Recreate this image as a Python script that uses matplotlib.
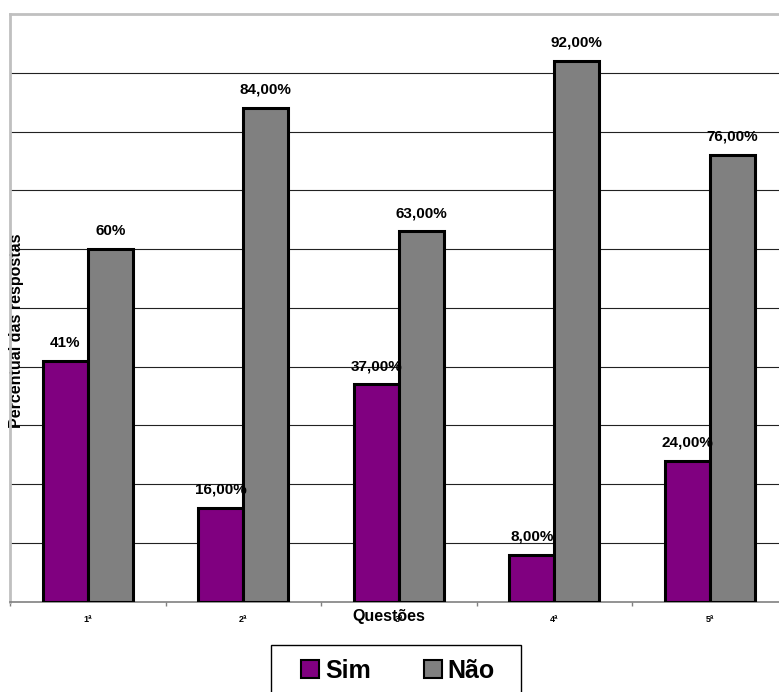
import matplotlib
matplotlib.use("Agg")
import matplotlib.pyplot as plt
from matplotlib.patches import Rectangle, Patch
import numpy as np

plt.rcParams['font.family'] = ['Liberation Sans', 'DejaVu Sans']

questoes = ["1ª", "2ª", "3ª", "4ª", "5ª"]
sim = [41, 16, 37, 8, 24]
nao = [60, 84, 63, 92, 76]
sim_labels = ["41%", "16,00%", "37,00%", "8,00%", "24,00%"]
nao_labels = ["60%", "84,00%", "63,00%", "92,00%", "76,00%"]

W, H = 779, 692
fig = plt.figure(figsize=(W / 100, H / 100), dpi=100)
fig.patch.set_facecolor("white")

x0, x1 = 10, 787.5
y_top, y_base = 14, 601.5
ax = fig.add_axes([x0 / W, 1 - y_base / H, (x1 - x0) / W, (y_base - y_top) / H])

x = np.arange(len(questoes))
bw = 0.29
bars_sim = ax.bar(x - bw / 2, sim, bw, color="#800080", edgecolor="black",
                  linewidth=2.2, zorder=3, label="Sim")
bars_nao = ax.bar(x + bw / 2, nao, bw, color="#808080", edgecolor="black",
                  linewidth=2.2, zorder=3, label="Não")

for rect, txt in list(zip(bars_sim, sim_labels)) + list(zip(bars_nao, nao_labels)):
    ax.annotate(txt, (rect.get_x() + rect.get_width() / 2, rect.get_height()),
                xytext=(0, 8), textcoords="offset points", ha="center", va="bottom",
                fontsize=11, fontweight="bold", color="black", zorder=5)

ax.set_xlim(-0.5, len(questoes) - 0.5)
ax.set_ylim(0, 100)

# horizontal gridlines every 10%
ax.set_yticks(np.arange(10, 100, 10))
ax.yaxis.grid(True, color="#222222", linewidth=0.8, zorder=1)
ax.tick_params(axis="y", left=False, labelleft=False)

# category labels centred, tick marks between categories
ax.set_xticks(x)
ax.set_xticklabels(questoes, fontsize=6.5, fontweight="bold")
ax.tick_params(axis="x", which="major", length=0, pad=10)
ax.set_xticks(np.arange(-0.5, len(questoes), 1.0), minor=True)
ax.tick_params(axis="x", which="minor", length=3, width=1, color="#808080", direction="out")

for side in ("top", "left"):
    ax.spines[side].set_color("#c0c0c0")
    ax.spines[side].set_linewidth(2)
ax.spines["bottom"].set_color("#808080")
ax.spines["bottom"].set_linewidth(1.2)
ax.spines["right"].set_visible(False)

ax.set_xlabel("Questões", fontsize=11.5, fontweight="bold")
ax.xaxis.set_label_coords((389 - x0) / (x1 - x0), (y_base - 617) / (y_base - y_top))
ax.xaxis.label.set_va("center")

ax.set_ylabel("Percentual das respostas", fontsize=11.5, fontweight="bold")
ax.yaxis.set_label_coords((17 - x0) / (x1 - x0), (y_base - 331) / (y_base - y_top))
ax.yaxis.label.set_va("center")

# legend box below the chart
fig.add_artist(Rectangle((271 / W, 1 - 700 / H), 250 / W, 55 / H,
                         transform=fig.transFigure, facecolor="white",
                         edgecolor="black", linewidth=1.0))
handles = [Patch(facecolor="#800080", edgecolor="black", linewidth=1.5),
           Patch(facecolor="#808080", edgecolor="black", linewidth=1.5)]
fig.legend(handles, ["Sim", "Não"], loc="center", ncol=2, frameon=False,
           bbox_to_anchor=(398 / W, 1 - 671 / H),
           prop={"size": 18, "weight": "bold"},
           handlelength=0.72, handleheight=0.72, handletextpad=0.25,
           columnspacing=2.1, borderpad=0.0)

fig.savefig("out.png", dpi=100, facecolor="white")
